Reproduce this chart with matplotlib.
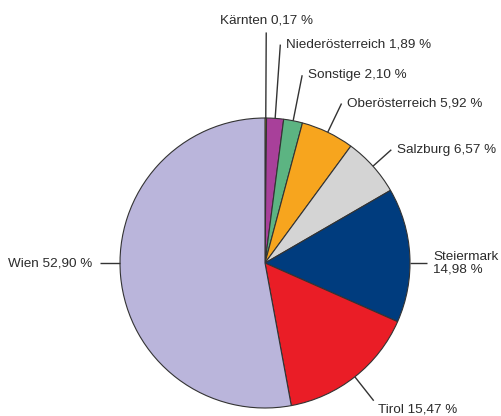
import numpy as np
import matplotlib
matplotlib.use("Agg")
import matplotlib.pyplot as plt

plt.rcParams['font.family'] = ['Liberation Sans', 'DejaVu Sans']

regions = ["Kärnten", "Niederösterreich", "Sonstige", "Oberösterreich",
           "Salzburg", "Steiermark", "Tirol", "Wien"]
shares = [0.17, 1.89, 2.10, 5.92, 6.57, 14.98, 15.47, 52.90]
labels = ["Kärnten 0,17 %", "Niederösterreich 1,89 %", "Sonstige 2,10 %",
          "Oberösterreich 5,92 %", "Salzburg 6,57 %", "Steiermark\n14,98 %",
          "Tirol 15,47 %", "Wien 52,90 %"]
colors = ["#FFE000", "#A8409A", "#5CB482", "#F7A51E", "#D4D4D4",
          "#003C7E", "#EA1D26", "#BAB5DB"]

# leader line length (in radii) per label
leader_len = [1.59, 1.51, 1.32, 1.22, 1.17, 1.12, 1.21, 1.14]
fs = 9.7
tc = "#2b2b2b"

fig = plt.figure(figsize=(5.01, 4.16), dpi=100)
ax = fig.add_axes([0, 0, 1, 1])
wedges, _ = ax.pie(shares, colors=colors, startangle=90, counterclock=False,
                   wedgeprops=dict(edgecolor="#333333", linewidth=0.8))

for w, lab, ln in zip(wedges, labels, leader_len):
    ang = (w.theta1 + w.theta2) / 2
    # Steiermark and Wien leaders are drawn horizontally
    if lab.startswith("Steiermark"):
        ang = 0.0
    elif lab.startswith("Wien"):
        ang = 180.0
    a = np.deg2rad(ang)
    x0, y0 = np.cos(a), np.sin(a)
    x1, y1 = ln * np.cos(a), ln * np.sin(a)
    ax.plot([x0, x1], [y0, y1], color="#333333", lw=1.0, solid_capstyle="butt")
    if lab.startswith("Kärnten"):
        ax.text(x1, y1 + 0.04, lab, ha="center", va="bottom", fontsize=fs, color=tc)
    elif lab.startswith("Wien"):
        ax.text(x1 - 0.05, y1, lab, ha="right", va="center", fontsize=fs, color=tc)
    elif lab.startswith("Tirol"):
        ax.text(x1 + 0.03, y1 - 0.02, lab, ha="left", va="top", fontsize=fs, color=tc)
    elif lab.startswith("Steiermark"):
        ax.text(x1 + 0.04, y1, lab, ha="left", va="center", fontsize=fs, color=tc,
                linespacing=1.0)
    else:
        ax.text(x1 + 0.04, y1, lab, ha="left", va="center", fontsize=fs, color=tc)

ax.set_xlim(-265 / 145, (501 - 265) / 145)
ax.set_ylim(-(416 - 263) / 145, 263 / 145)
ax.set_aspect("auto")
ax.axis("off")

fig.savefig("out.png", dpi=100)
